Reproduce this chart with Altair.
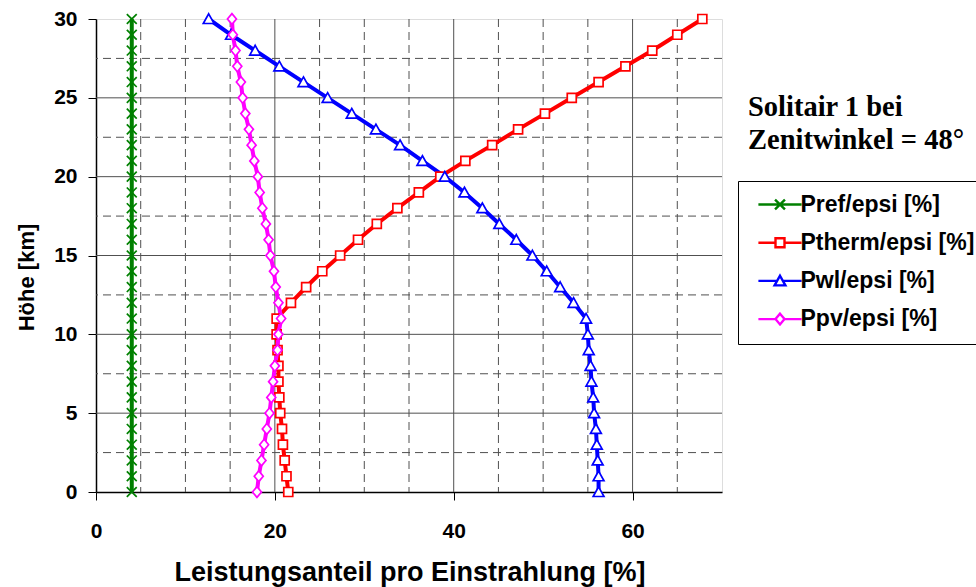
import altair as alt
import pandas as pd

# Höhe in km (0 .. 30)
hoehe = list(range(31))

reihen = ["Pref/epsi [%]", "Ptherm/epsi [%]", "Pwl/epsi [%]", "Ppv/epsi [%]"]
farben = ["#008000", "#FF0000", "#0000FF", "#FF00FF"]

pref = [4.0, 4.0, 4.0, 4.0, 4.0, 4.0, 4.0, 4.0, 4.0, 4.0, 4.0,
        4.0, 4.0, 4.0, 4.0, 4.0, 4.0, 4.0, 4.0, 4.0, 4.0,
        4.0, 4.0, 4.0, 4.0, 4.0, 4.0, 4.0, 4.0, 4.0, 4.0]
ptherm = [21.5, 21.3, 21.1, 20.9, 20.8, 20.6, 20.5, 20.4, 20.4, 20.3, 20.2,
          20.2, 21.8, 23.5, 25.3, 27.3, 29.3, 31.4, 33.7, 36.1, 38.5,
          41.3, 44.3, 47.2, 50.2, 53.2, 56.2, 59.2, 62.2, 65.0, 67.8]
pwl = [56.2, 56.2, 56.1, 56.0, 55.9, 55.7, 55.6, 55.4, 55.3, 55.1, 55.0,
       54.8, 53.4, 51.9, 50.4, 48.8, 47.0, 45.1, 43.2, 41.2, 39.0,
       36.5, 34.0, 31.3, 28.6, 25.9, 23.2, 20.5, 17.8, 15.1, 12.6]
ppv = [18.0, 18.2, 18.5, 18.8, 19.1, 19.4, 19.6, 19.8, 20.0, 20.3, 20.4,
       20.7, 20.4, 20.1, 19.9, 19.5, 19.3, 19.0, 18.6, 18.3, 18.1,
       17.7, 17.4, 17.1, 16.7, 16.4, 16.2, 15.8, 15.6, 15.3, 15.2]

x_ticks = [0, 20, 40, 60]
y_ticks = [0, 5, 10, 15, 20, 25, 30]
x_grid_major = [20, 40, 60]
x_grid_minor = [5, 10, 15, 25, 30, 35, 45, 50, 55, 65]
y_grid_major = [5, 10, 15, 20, 25]
y_grid_minor = [2.5, 7.5, 12.5, 17.5, 22.5, 27.5]

# marker glyphs (x, square, triangle, diamond)
marker_paths = [
    "M-1.1,-1.1L1.1,1.1M-1.1,1.1L1.1,-1.1",
    "M-1,-1H1V1H-1Z",
    "M0,-1.15L1.2,1L-1.2,1Z",
    "M0,-1.2L1,0L0,1.2L-1,0Z",
]
# legend glyphs: the same markers with a line stub on each side
legend_paths = [
    "M-4.8,0H4.8M-1.1,-1.1L1.1,1.1M-1.1,1.1L1.1,-1.1",
    "M-4.8,0H-1M1,0H4.8M-1,-1H1V1H-1Z",
    "M-4.8,0H-0.62M0.62,0H4.8M0,-1.15L1.2,1L-1.2,1Z",
    "M-4.8,0H-1M1,0H4.8M0,-1.2L1,0L0,1.2L-1,0Z",
]

rows = []
for name, werte in zip(reihen, [pref, ptherm, pwl, ppv]):
    for h, w in zip(hoehe, werte):
        rows.append({"reihe": name, "hoehe": h, "wert": w})
df = pd.DataFrame(rows)

FONT = "Liberation Sans"
W, H = 626, 473

xscale = alt.Scale(domain=[0, 70], nice=False, zero=False)
yscale = alt.Scale(domain=[0, 30], nice=False, zero=False)
color_scale = alt.Scale(domain=reihen, range=farben)

x_axis = alt.Axis(
    values=x_ticks, grid=False, tickSize=8, tickColor="black", tickWidth=1,
    domainColor="black", domainWidth=1.5, labelFlush=False,
    labelFont=FONT, labelFontSize=21, labelFontWeight="bold", labelColor="black",
    labelBaseline="alphabetic", labelPadding=37,
    title="Leistungsanteil pro Einstrahlung [%]", titleFont=FONT, titleFontSize=27,
    titleFontWeight="bold", titleColor="black", titleX=313.5, titleY=88,
    titleBaseline="alphabetic", titleAlign="center",
)
y_axis = alt.Axis(
    values=y_ticks, grid=False, tickSize=8, tickColor="black", tickWidth=1,
    domainColor="black", domainWidth=1.5,
    labelFont=FONT, labelFontSize=21, labelFontWeight="bold", labelColor="black",
    labelPadding=11,
    title="Höhe [km]", titleFont=FONT, titleFontSize=22, titleFontWeight="bold",
    titleColor="black", titleX=-63, titleY=258, titleAlign="center",
    titleBaseline="alphabetic", titleAngle=270,
)


def xenc(field):
    return alt.X(field, scale=xscale, axis=x_axis, title="Leistungsanteil pro Einstrahlung [%]")


def yenc(field):
    return alt.Y(field, scale=yscale, axis=y_axis, title="Höhe [km]")


GRID = "#505050"

vgrid_major = alt.Chart(pd.DataFrame({"wert": x_grid_major})).mark_rule(
    color=GRID, strokeWidth=1).encode(x=xenc("wert:Q"))
vgrid_minor = alt.Chart(pd.DataFrame({"wert": x_grid_minor})).mark_rule(
    color=GRID, strokeWidth=1, strokeDash=[8, 5]).encode(x=xenc("wert:Q"))
hgrid_major = alt.Chart(pd.DataFrame({"hoehe": y_grid_major})).mark_rule(
    color=GRID, strokeWidth=1).encode(y=yenc("hoehe:Q"))
hgrid_minor = alt.Chart(pd.DataFrame({"hoehe": y_grid_minor})).mark_rule(
    color=GRID, strokeWidth=1, strokeDash=[8, 5]).encode(y=yenc("hoehe:Q"))

base = alt.Chart(df)

lines = base.mark_line(strokeWidth=4).encode(
    x=xenc("wert:Q"),
    y=yenc("hoehe:Q"),
    color=alt.Color("reihe:N", scale=color_scale, legend=None),
    order=alt.Order("hoehe:Q"),
)

points = base.mark_point(filled=False, fill="white", strokeWidth=1.7, size=81, opacity=1).encode(
    x=xenc("wert:Q"),
    y=yenc("hoehe:Q"),
    color=alt.Color("reihe:N", scale=color_scale, legend=None),
    shape=alt.Shape("reihe:N", scale=alt.Scale(domain=reihen, range=marker_paths), legend=None),
)

leg = alt.Legend(
    title=None, orient="none", legendX=642, legendY=162,
    padding=12, rowPadding=14.2, symbolOffset=18.5, labelOffset=9,
    symbolSize=81, symbolStrokeWidth=2.4, symbolOpacity=1, symbolFillColor="white",
    labelFont=FONT, labelFontSize=23, labelFontWeight="bold", labelColor="black",
    labelLimit=400, strokeColor="black", fillColor="white",
)

legend_layer = base.mark_point(filled=False, fill="white", strokeWidth=2, size=81, opacity=0).encode(
    x=xenc("wert:Q"),
    y=yenc("hoehe:Q"),
    color=alt.Color("reihe:N", scale=color_scale, legend=leg),
    shape=alt.Shape("reihe:N", scale=alt.Scale(domain=reihen, range=legend_paths), legend=leg),
)

chart = alt.layer(
    vgrid_minor, hgrid_minor, vgrid_major, hgrid_major, lines, points, legend_layer
).resolve_scale(
    shape="independent"
).resolve_legend(
    color="independent", shape="independent"
).properties(
    width=W, height=H,
    autosize=alt.AutoSizeParams(type="none"),
    padding={"left": 96, "top": 19, "right": 254, "bottom": 95},
    title=alt.TitleParams(
        text=["Solitair 1 bei", "Zenitwinkel = 48°"],
        font="Liberation Serif", fontSize=28.5, fontWeight="bold", color="black",
        anchor="start", frame="group", orient="top", offset=0,
        dx=652, dy=146, baseline="top", lineHeight=33,
    ),
).configure_view(
    stroke="#808080", strokeWidth=1.5
).configure(background="white")

chart.save("out.html", embed_options={"renderer": "svg", "actions": False})
